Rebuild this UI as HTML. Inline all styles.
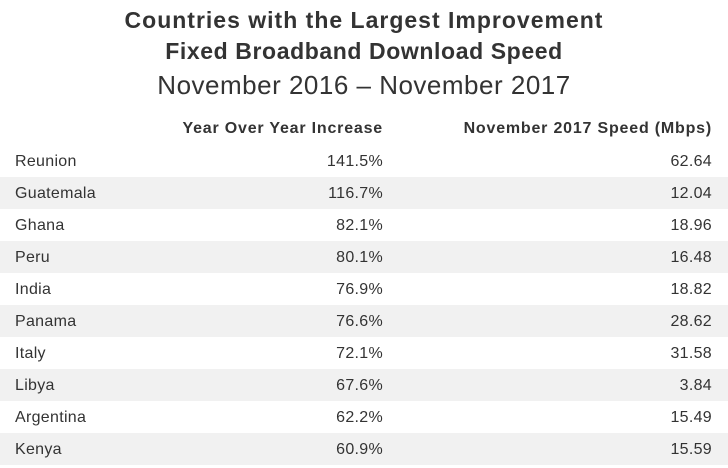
<!DOCTYPE html>
<html><head><meta charset="utf-8"><style>
body{margin:0;width:728px;height:468px;background:#fff;font-family:"Liberation Sans",sans-serif;color:#333;position:relative;overflow:hidden}
.t{position:absolute;left:0;width:728px;text-align:center;color:#333}
.row{position:absolute;left:0;width:728px;height:32px;font-size:16px;line-height:34px;letter-spacing:0.3px}
.row.g{background:#f1f1f1}
.c1{position:absolute;left:15px}
.c2{position:absolute;right:345px}
.c3{position:absolute;right:16px}
.hd{font-weight:bold;letter-spacing:0.8px}
</style></head><body>
<div class="t" style="top:6px;font-size:23px;font-weight:bold;line-height:28px;letter-spacing:1px">Countries with the Largest Improvement</div>
<div class="t" style="top:37px;font-size:23px;font-weight:bold;line-height:28px;letter-spacing:0.6px">Fixed Broadband Download Speed</div>
<div class="t" style="top:69px;font-size:26px;line-height:32px;letter-spacing:0.5px">November 2016 – November 2017</div>
<div class="row hd" style="top:112px">
<span class="c2">Year Over Year Increase</span>
<span class="c3">November 2017 Speed (Mbps)</span>
</div>
<div id="tbl"></div>
<script>
const countries=["Reunion","Guatemala","Ghana","Peru","India","Panama","Italy","Libya","Argentina","Kenya"];
const increases=["141.5%","116.7%","82.1%","80.1%","76.9%","76.6%","72.1%","67.6%","62.2%","60.9%"];
const speeds=["62.64","12.04","18.96","16.48","18.82","28.62","31.58","3.84","15.49","15.59"];
const tbl=document.getElementById('tbl');
countries.forEach((c,i)=>{
const r=document.createElement('div');
r.className='row'+(i%2?' g':'');
r.style.top=(145+i*32)+'px';


const a=document.createElement('span');a.className='c1';a.textContent=c;


const b=document.createElement('span');b.className='c2';b.textContent=increases[i];


const d=document.createElement('span');d.className='c3';d.textContent=speeds[i];


r.append(a,b,d);tbl.appendChild(r);
});
</script>
</body></html>
